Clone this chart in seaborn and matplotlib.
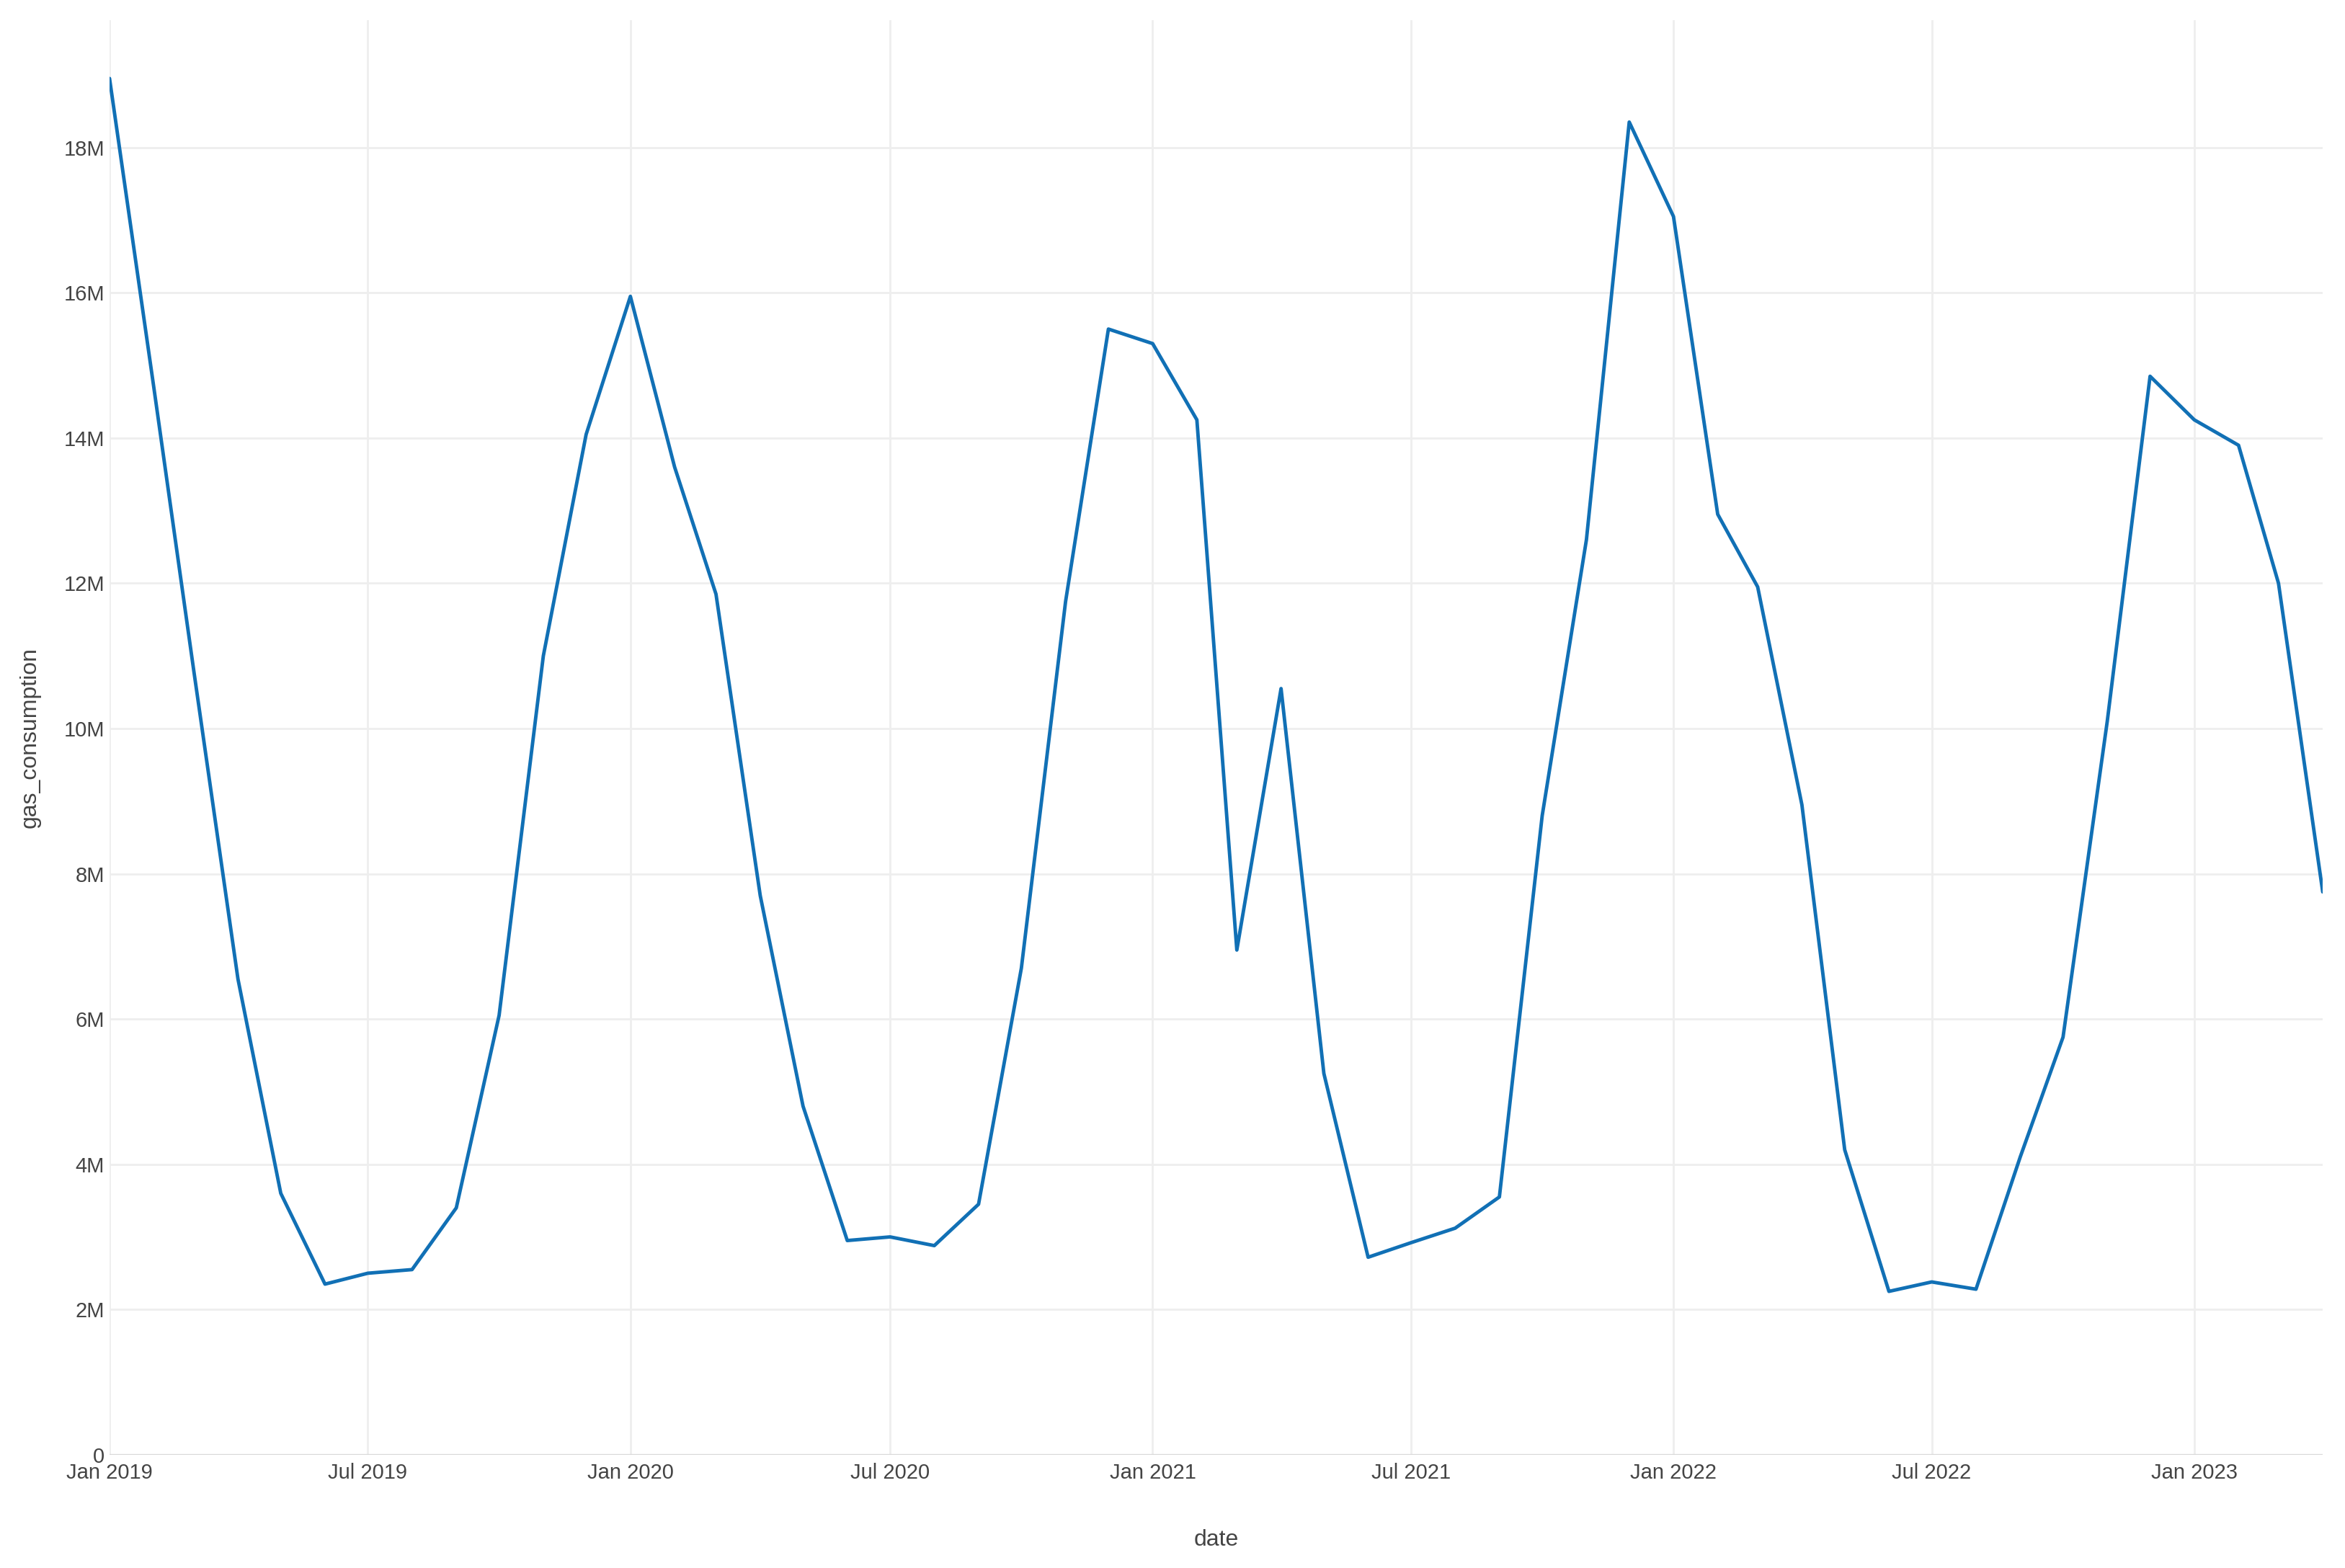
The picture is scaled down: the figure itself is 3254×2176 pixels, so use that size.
import matplotlib
matplotlib.use("Agg")
import pandas as pd
import matplotlib.pyplot as plt
from matplotlib.ticker import FixedLocator, FixedFormatter
import seaborn as sns

# monthly gas consumption (millions), Jan 2019 .. Apr 2023
START_MONTH = "2019-01-01"
gas_2019 = [18.95, 14.7, 10.8, 6.55, 3.6, 2.35, 2.5, 2.55, 3.4, 6.05, 11.0, 14.05]
gas_2020 = [15.95, 13.6, 11.85, 7.7, 4.8, 2.95, 3.0, 2.88, 3.45, 6.7, 11.75, 15.5]
gas_2021 = [15.3, 14.25, 6.95, 10.55, 5.25, 2.72, 2.92, 3.12, 3.55, 8.8, 12.6, 18.35]
gas_2022 = [17.05, 12.95, 11.95, 8.95, 4.2, 2.25, 2.38, 2.28, 4.1, 5.75, 10.1, 14.85]
gas_2023 = [14.25, 13.9, 12.0, 7.75]

x_ticks = ["2019-01-01", "2019-07-01", "2020-01-01", "2020-07-01", "2021-01-01",
           "2021-07-01", "2022-01-01", "2022-07-01", "2023-01-01"]
x_tick_labels = ["Jan 2019", "Jul 2019", "Jan 2020", "Jul 2020", "Jan 2021",
                 "Jul 2021", "Jan 2022", "Jul 2022", "Jan 2023"]
y_ticks = [0, 2e6, 4e6, 6e6, 8e6, 10e6, 12e6, 14e6, 16e6, 18e6]
y_tick_labels = ["0", "2M", "4M", "6M", "8M", "10M", "12M", "14M", "16M", "18M"]

LINE = "#1170b5"
TEXT = "#444444"

values = gas_2019 + gas_2020 + gas_2021 + gas_2022 + gas_2023
df = pd.DataFrame({
    "date": pd.date_range(START_MONTH, periods=len(values), freq="MS"),
    "gas_consumption": [v * 1e6 for v in values],
})

sns.set_theme(style="white")
plt.rcParams["font.family"] = ["Liberation Sans", "DejaVu Sans"]

fig = plt.figure(figsize=(16.275, 10.88), dpi=200)
ax = fig.add_axes([0.0467, 0.0722, 0.9435, 0.9148])

sns.lineplot(data=df, x="date", y="gas_consumption", color=LINE,
             linewidth=1.75, ax=ax, zorder=3)

ax.set_xlim(df["date"].iloc[0], df["date"].iloc[-1])
ax.set_ylim(0, 19.75e6)

ax.xaxis.set_major_locator(FixedLocator(
    [matplotlib.dates.date2num(pd.Timestamp(t)) for t in x_ticks]))
ax.xaxis.set_major_formatter(FixedFormatter(x_tick_labels))
ax.yaxis.set_major_locator(FixedLocator(y_ticks))
ax.yaxis.set_major_formatter(FixedFormatter(y_tick_labels))

ax.grid(True, color="#eeeeee", linewidth=1.0, zorder=0)
ax.axhline(0, color="#d8d8d8", linewidth=1.2, zorder=1)
for s in ax.spines.values():
    s.set_visible(False)

ax.tick_params(axis="both", length=0, labelsize=10.5, labelcolor=TEXT)
ax.tick_params(axis="y", pad=2.5)
ax.tick_params(axis="x", pad=4)

ax.set_xlabel("date", fontsize=11.5, color=TEXT)
ax.set_ylabel("gas_consumption", fontsize=11.5, color=TEXT)
ax.xaxis.set_label_coords(0.5, -0.052)
ax.yaxis.set_label_coords(-0.031, 0.5)

fig.savefig("out.png", dpi=200, facecolor="white")
